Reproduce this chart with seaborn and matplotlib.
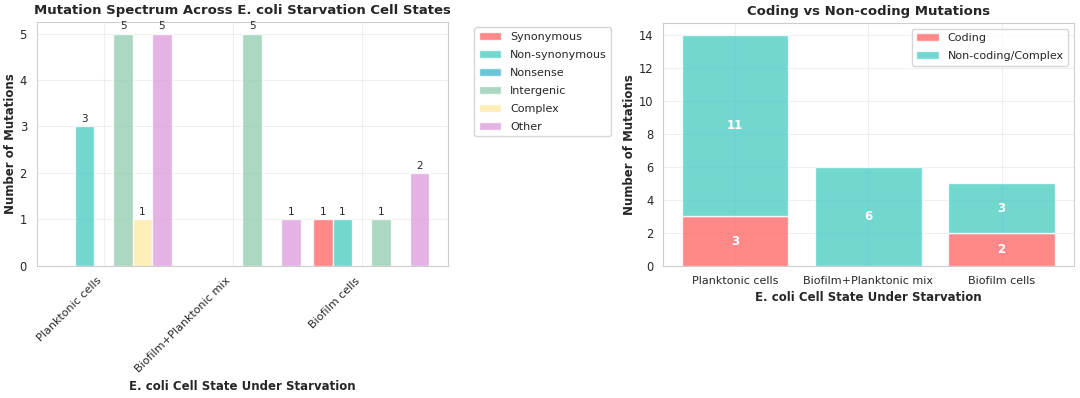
import numpy as np
import pandas as pd
import seaborn as sns
import matplotlib
matplotlib.use("Agg")
import matplotlib.pyplot as plt

sns.set_style("whitegrid")
plt.rcParams['font.family'] = ['DejaVu Sans']

states = ["Planktonic cells", "Biofilm+Planktonic mix", "Biofilm cells"]
mut_types = ["Synonymous", "Non-synonymous", "Nonsense", "Intergenic", "Complex", "Other"]
synonymous = [0, 0, 1]
non_synonymous = [3, 0, 1]
nonsense = [0, 0, 0]
intergenic = [5, 5, 1]
complex_mut = [1, 0, 0]
other = [5, 1, 2]
coding = [3, 0, 2]
noncoding = [11, 6, 3]

type_colors = ["#FF6B6B", "#4ECDC4", "#45B7D1", "#96CEB4", "#FFEAA7", "#DDA0DD"]

counts = pd.DataFrame({
    "Synonymous": synonymous,
    "Non-synonymous": non_synonymous,
    "Nonsense": nonsense,
    "Intergenic": intergenic,
    "Complex": complex_mut,
    "Other": other,
}, index=states)

fig, (ax1, ax2) = plt.subplots(1, 2, figsize=(10.8, 3.98), dpi=100)
ax1.set_position([0.034, 0.332, 0.381, 0.613])
ax2.set_position([0.614, 0.332, 0.380, 0.610])

# grouped bars, offset from the tick
x = np.arange(len(states))
width = 0.15
for i, t in enumerate(mut_types):
    bars = ax1.bar(x + (i - 2) * width, counts[t], width, label=t,
                   color=type_colors[i], alpha=0.8, edgecolor='white', linewidth=1)
    for b, v in zip(bars, counts[t]):
        if v > 0:
            ax1.text(b.get_x() + b.get_width() / 2, v + 0.05, str(v),
                     ha='center', va='bottom', fontsize=7.5)

ax1.set_xticks(x)
ax1.set_xticklabels(states, rotation=45, ha='right', fontsize=8)
ax1.tick_params(axis='y', labelsize=8.3)
ax1.set_title("Mutation Spectrum Across E. coli Starvation Cell States", fontsize=9.5, fontweight='bold')
ax1.set_xlabel("E. coli Cell State Under Starvation", fontsize=8.5, fontweight='bold')
ax1.set_ylabel("Number of Mutations", fontsize=8.5, fontweight='bold', labelpad=2)
ax1.legend(bbox_to_anchor=(1.05, 1), loc='upper left', fontsize=8, labelspacing=0.72)
ax1.grid(True, alpha=0.3)

# stacked coding / non-coding
ax2.bar(states, coding, 0.8, label="Coding", color="#FF6B6B", alpha=0.8,
        edgecolor='white', linewidth=1)
ax2.bar(states, noncoding, 0.8, bottom=coding, label="Non-coding/Complex",
        color="#4ECDC4", alpha=0.8, edgecolor='white', linewidth=1)
for i in range(len(states)):
    if coding[i] > 0:
        ax2.text(i, coding[i] / 2, str(coding[i]), ha='center', va='center',
                 color='white', fontweight='bold', fontsize=8.5)
    if noncoding[i] > 0:
        ax2.text(i, coding[i] + noncoding[i] / 2, str(noncoding[i]), ha='center', va='center',
                 color='white', fontweight='bold', fontsize=8.5)

ax2.tick_params(axis='x', labelsize=8)
ax2.tick_params(axis='y', labelsize=8.3)
ax2.set_title("Coding vs Non-coding Mutations", fontsize=9.5, fontweight='bold')
ax2.set_xlabel("E. coli Cell State Under Starvation", fontsize=8.5, fontweight='bold')
ax2.set_ylabel("Number of Mutations", fontsize=8.5, fontweight='bold', labelpad=2)
ax2.legend(loc='upper right', fontsize=8, labelspacing=0.72)
ax2.grid(True, alpha=0.3)

plt.savefig("out.png", dpi=100)
